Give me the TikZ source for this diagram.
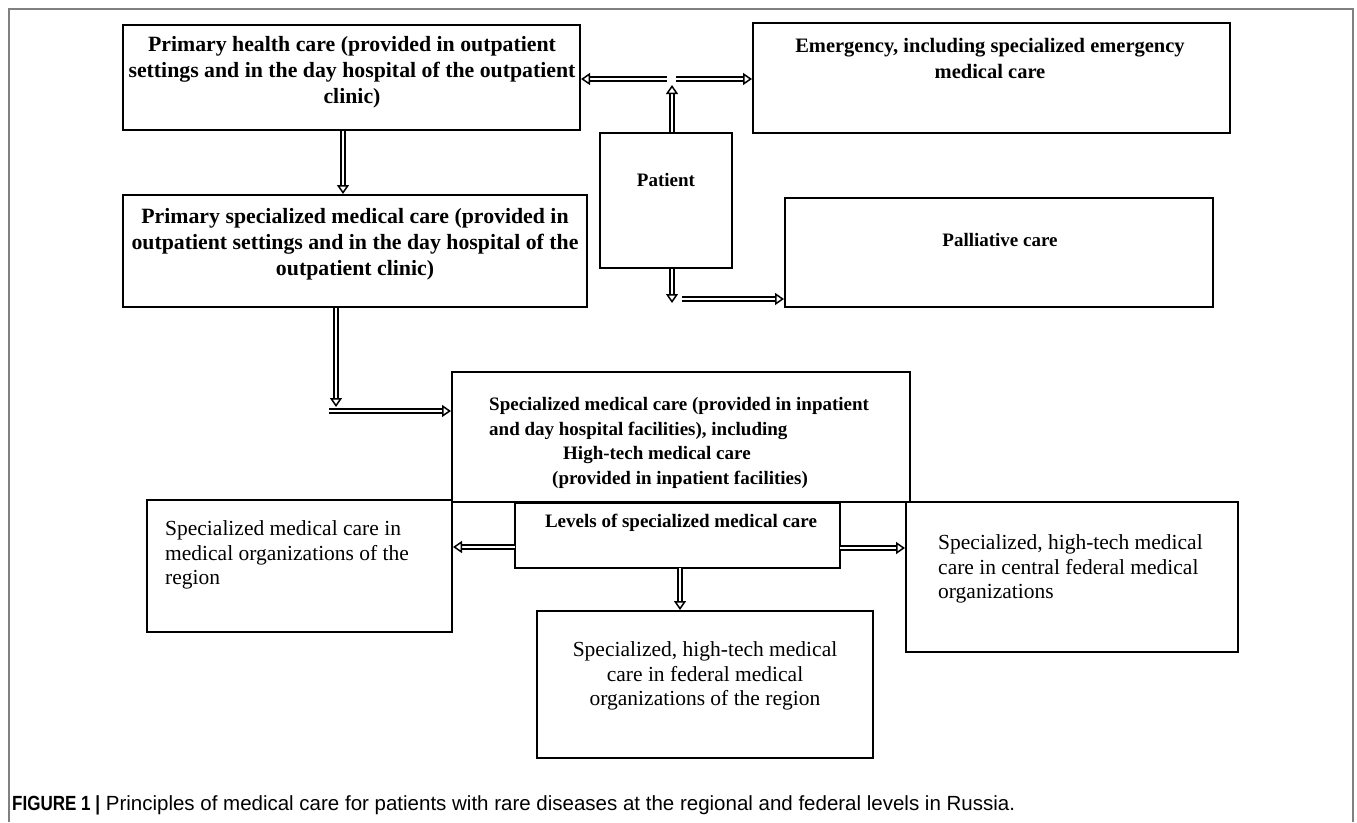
\documentclass[tikz,border=0pt]{standalone}
\usepackage{fontspec}
\setmainfont{Liberation Serif}
\newfontfamily\capfont{Liberation Sans}
\usetikzlibrary{arrows.meta,calc}
\begin{document}
\begin{tikzpicture}[x=1pt,y=-1pt,
  box/.style={draw=black, line width=2pt, rectangle, inner sep=0pt},
  btxt/.style={font=\fontsize{19}{24.5}\selectfont\bfseries, align=center, inner sep=0pt},
  midtxt/.style={font=\fontsize{20.5}{25.5}\selectfont\bfseries, align=center, inner sep=0pt},
  bigtxt/.style={font=\fontsize{21.8}{25.8}\selectfont\bfseries, align=center, inner sep=0pt},
  rtxt/.style={font=\fontsize{21.5}{24.2}\selectfont, inner sep=0pt},
  darr/.style={double=white, double distance=2.6pt, line width=1.5pt,
    -{Triangle[length=9pt,width=12pt,fill=white,line width=1.5pt]}}
]
\useasboundingbox (0,0) rectangle (1357,822);
% frame
\draw[gray, line width=1.5pt] (9,822) -- (9,9) -- (1353,9) -- (1353,822);

% boxes
\node[box, minimum width=457pt, minimum height=105pt] (b1) at (351.5,77.5) {};
\node[box, minimum width=477pt, minimum height=110pt] (em) at (991.5,78) {};
\node[box, minimum width=132pt, minimum height=135pt] (pat) at (666,200.5) {};
\node[box, minimum width=464pt, minimum height=112pt] (b4) at (355,251) {};
\node[box, minimum width=428pt, minimum height=109pt] (pal) at (999,252.5) {};
\node[box, minimum width=458pt, minimum height=130pt] (spec) at (681,437) {};
\node[box, minimum width=305pt, minimum height=132pt] (reg) at (299.5,566) {};
\node[box, minimum width=332pt, minimum height=150pt] (cen) at (1072,577) {};
\node[box, minimum width=336pt, minimum height=147pt] (fed) at (705,684.5) {};
\node[box, minimum width=325pt, minimum height=65pt, fill=white] (lev) at (677.5,535.5) {};

% texts
\node[bigtxt] (t1) at (352,72) {Primary health care (provided in outpatient\\settings and in the day hospital of the outpatient\\clinic)};
\node[midtxt] (tem) at (990,58.5) {Emergency, including specialized emergency\\medical care};
\node[btxt] (tpat) at (666,180) {Patient};
\node[bigtxt] (t4) at (355,244) {Primary specialized medical care (provided in\\outpatient settings and in the day hospital of the\\outpatient clinic)};
\node[btxt] (tpal) at (1000,240) {Palliative care};
\node[btxt, align=left, anchor=west] (tspec) at (489,443) {Specialized medical care (provided in inpatient\\and day hospital facilities), including\\\hspace*{74pt}High-tech medical care\\\hspace*{63pt}(provided in inpatient facilities)};
\node[btxt] (tlev) at (681,523) {Levels of specialized medical care};
\node[rtxt, align=left, anchor=west] (treg) at (165,555) {Specialized medical care in\\medical organizations of the\\region};
\node[rtxt, align=left, anchor=west] (tcen) at (938,569) {Specialized, high-tech medical\\care in central federal medical\\organizations};
\node[rtxt, align=center] (tfed) at (705,676) {Specialized, high-tech medical\\care in federal medical\\organizations of the region};

% connector coordinates
\coordinate (upend) at (672,85);
\coordinate (jl) at (667,79);
\coordinate (jr) at (676,79);
\coordinate (k1) at (336,407);
\coordinate (k2) at (329,411);
\coordinate (p1) at (672,303);
\coordinate (p2) at (682,299);
\coordinate (la) at (515,547);
\coordinate (ra) at (840,548);
\coordinate (da) at (680,568);
\coordinate (bx) at (343,0);

% connectors
\draw[darr] (pat.north -| upend) -- (upend);
\draw[darr] (jl) -- (jl -| b1.east);
\draw[darr] (jr) -- (jr -| em.west);
\draw[darr] (b1.south -| bx) -- (b4.north -| bx);
\draw[darr] (b4.south -| k1) -- (k1);
\draw[darr] (k2) -- (k2 -| spec.west);
\draw[darr] (pat.south -| p1) -- (p1);
\draw[darr] (p2) -- (p2 -| pal.west);
\draw[darr] (la) -- (la -| reg.east);
\draw[darr] (ra) -- (ra -| cen.west);
\draw[darr] (da) -- (da |- fed.north);

% caption
\node[anchor=west, inner sep=0pt, font=\capfont\fontsize{20.5}{22}\selectfont] (cap) at (12,805) {\scalebox{0.83}[1]{\bfseries FIGURE 1 |} Principles of medical care for patients with rare diseases at the regional and federal levels in Russia.};
\end{tikzpicture}
\end{document}
